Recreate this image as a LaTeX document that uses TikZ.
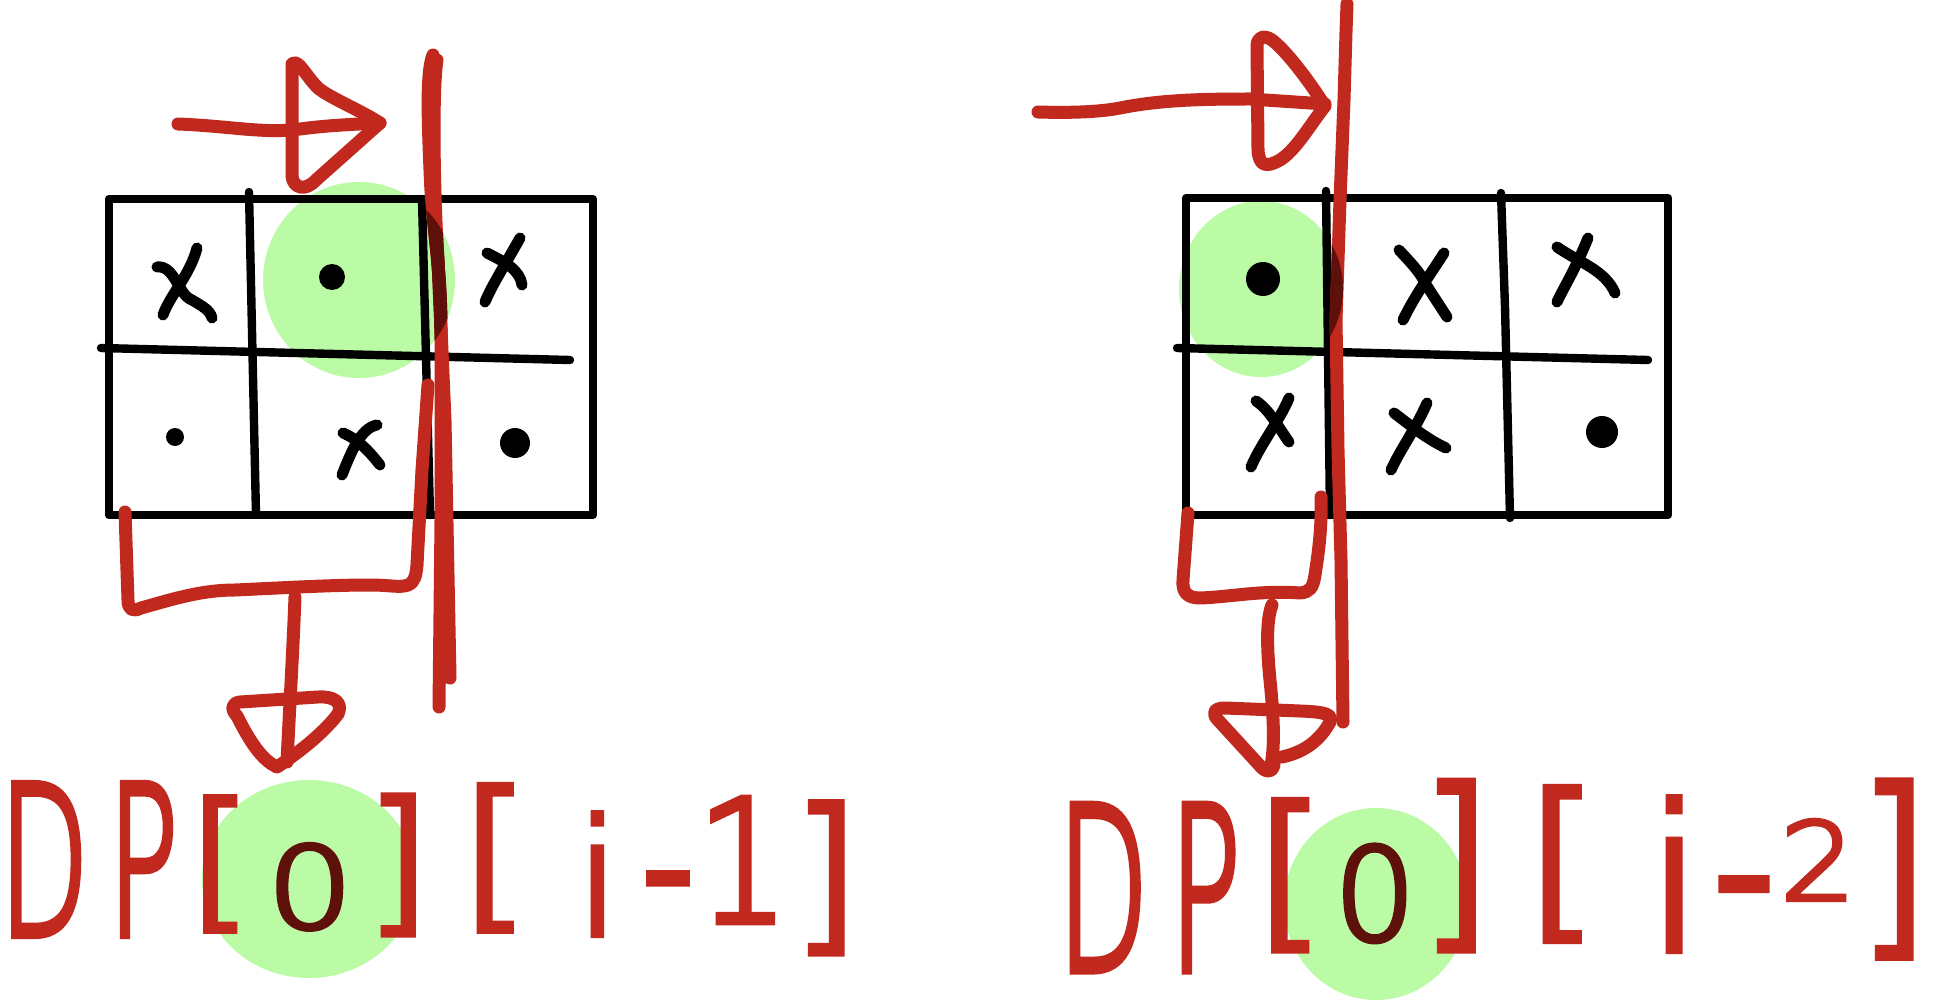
\documentclass[tikz,border=0pt]{standalone}
\usepackage{fontspec}
\setmainfont{Liberation Sans}
\IfFontExistsTF{DejaVu Sans ExtraLight}{\newfontfamily\hwfont{DejaVu Sans ExtraLight}[FakeBold=4]}{\newfontfamily\hwfont{Liberation Sans}}
\usepackage{graphicx}
\definecolor{redc}{RGB}{193,41,30}
\definecolor{maroonc}{RGB}{94,16,10}
\definecolor{greenc}{RGB}{187,251,166}
\newcommand\hwch[5]{\makebox[#1][c]{\raisebox{#4}{\fontsize{#2}{#2}\selectfont\scalebox{#3}[1]{#5}}}}
\tikzset{
  gridl/.style={line width=4.2pt, line cap=round, line join=round},
  xm/.style={line width=5.5pt, line cap=round, line join=round},
  rs/.style={line width=6.5pt, line cap=round, line join=round},
  lbl/.style={inner sep=0pt, outer sep=0pt, text=redc, anchor=base west, font=\hwfont},
  blob/.style={fill=greenc}
}
\newcommand\redLeftStrokes{%
 \draw[rs] (178,124) .. controls (230,126) and (265,134) .. (300,129) .. controls (330,125) and (360,124) .. (380,123);
 \draw[rs] (380,123) .. controls (360,110) and (330,98) .. (318,88) .. controls (305,75) and (298,58) .. (292,64) -- (292,176) .. controls (293,188) and (305,192) .. (316,180) -- (380,123);
 \draw[rs] (433,55) .. controls (426,72) and (428,120) .. (430,170) .. controls (432,230) and (441,262) .. (441,330) -- (441,520) -- (439,707);
 \draw[rs] (437,60) .. controls (432,90) and (434,200) .. (438,260) -- (445,420) -- (450,678);
 \draw[rs] (125,512) -- (128,600) .. controls (128,610) and (133,612) .. (141,608) .. controls (170,600) and (200,590) .. (235,590) .. controls (280,588) and (330,585) .. (370,585) .. controls (390,585) and (400,588) .. (408,585) .. controls (415,582) and (416,575) .. (417,565) -- (422,470) -- (428,385);
 \draw[rs] (295,597) .. controls (293,650) and (290,700) .. (287,762);
 \draw[rs] (237,716) .. controls (250,742) and (262,760) .. (277,767) .. controls (295,755) and (322,735) .. (338,714) .. controls (343,703) and (335,696) .. (318,697) -- (240,702) .. controls (231,703) and (231,710) .. (237,716);
}
\newcommand\redRightStrokes{%
 \draw[rs] (1038,112) .. controls (1070,113) and (1100,112) .. (1120,108) .. controls (1160,100) and (1200,99) .. (1250,99) -- (1325,104);
 \draw[rs] (1325,106) .. controls (1305,75) and (1285,50) .. (1272,40) .. controls (1263,34) and (1257,38) .. (1257,46) -- (1258,150) .. controls (1259,166) and (1266,168) .. (1280,160) .. controls (1296,150) and (1310,125) .. (1325,106);
 \draw[rs] (1347,4) -- (1346,32) -- (1344,100) -- (1340,200) -- (1336,320) -- (1338,450) -- (1341,560) -- (1343,722);
 \draw[rs] (1188,513) -- (1183,580) .. controls (1182,593) and (1188,598) .. (1200,598) .. controls (1230,597) and (1262,590) .. (1300,593) .. controls (1310,592) and (1313,588) .. (1315,575) .. controls (1318,555) and (1322,530) .. (1321,497);
 \draw[rs] (1272,605) .. controls (1266,620) and (1267,650) .. (1270,680) .. controls (1274,720) and (1275,750) .. (1270,770);
 \draw[rs] (1282,757) .. controls (1305,752) and (1320,740) .. (1330,722) .. controls (1333,714) and (1325,712) .. (1300,711) -- (1225,708) .. controls (1213,708) and (1212,714) .. (1218,720) -- (1262,768) .. controls (1268,773) and (1272,772) .. (1274,765);
}
\begin{document}
\begin{tikzpicture}[x=0.5pt,y=-0.5pt]
\useasboundingbox (0,0) rectangle (1943,1000);
\fill[white] (0,0) rectangle (1943,1000);
% green highlights
\fill[blob] (359,280) ellipse [x radius=96, y radius=98];
\fill[blob] (1261,289) ellipse [x radius=82, y radius=88];
\fill[blob] (309,879) ellipse [x radius=107, y radius=99];
\fill[blob] (1376,904) ellipse [x radius=92, y radius=96];
% left grid
\draw[gridl] (109,199) rectangle (593,515);
\draw[gridl] (249,192) -- (256,515);
\draw[gridl] (422,199) -- (430,515);
\draw[gridl] (101,348) -- (570,360);
% left marks
\draw[xm] (157,267) .. controls (175,265) and (178,295) .. (192,300) .. controls (202,306) and (210,310) .. (212,318);
\draw[xm] (197,248) .. controls (190,275) and (170,295) .. (163,315);
\draw[xm] (487,253) .. controls (505,262) and (520,270) .. (522,285);
\draw[xm] (520,238) .. controls (505,265) and (492,285) .. (485,302);
\draw[xm] (343,433) .. controls (360,440) and (372,455) .. (380,465);
\draw[xm] (377,425) .. controls (360,428) and (350,455) .. (342,475);
\fill (332,277) circle [radius=13];
\fill (175,437) circle [radius=9];
\fill (515,443) circle [radius=15];
% right grid
\draw[gridl] (1186,198) rectangle (1668,515);
\draw[gridl] (1326,191) -- (1330,515);
\draw[gridl] (1501,193) -- (1505,307) -- (1510,518);
\draw[gridl] (1177,348) -- (1648,360);
% right marks
\fill (1263,279) circle [radius=17];
\draw[xm] (1399,250) .. controls (1410,262) and (1420,272) .. (1425,283) -- (1447,317);
\draw[xm] (1444,253) .. controls (1430,275) and (1415,295) .. (1403,320);
\draw[xm] (1557,247) .. controls (1580,263) and (1605,270) .. (1615,293);
\draw[xm] (1588,238) .. controls (1575,270) and (1565,285) .. (1557,302);
\draw[xm] (1256,401) .. controls (1270,410) and (1280,430) .. (1289,442);
\draw[xm] (1289,398) .. controls (1280,420) and (1260,445) .. (1251,467);
\draw[xm] (1394,413) .. controls (1410,425) and (1425,438) .. (1446,448);
\draw[xm] (1427,403) .. controls (1415,430) and (1400,450) .. (1391,470);
\fill (1602,432) circle [radius=16];
% red strokes
\begin{scope}[color=redc]
\redLeftStrokes
\redRightStrokes
\end{scope}
\begin{scope}
\clip (359,280) ellipse [x radius=96, y radius=98];
\begin{scope}[color=maroonc]\redLeftStrokes\end{scope}
\end{scope}
\begin{scope}
\clip (1261,289) ellipse [x radius=82, y radius=88];
\begin{scope}[color=maroonc]\redRightStrokes\end{scope}
\end{scope}
% labels
\node[lbl] (labA) at (8,935) {\hwch{36pt}{103.5}{0.56}{0pt}{D}%
\hwch{63pt}{103.5}{0.56}{0pt}{P}%
\hwch{14pt}{75}{1.1}{12pt}{[}%
\hwch{76pt}{56.5}{1.2}{3.5pt}{\color{maroonc}0}%
\hwch{12pt}{78}{1.1}{10.5pt}{]}%
\hwch{85pt}{81.5}{1.1}{13pt}{[}%
\hwch{18pt}{80}{1}{0pt}{i}%
\hwch{52pt}{103.5}{0.7}{0pt}{-}%
\hwch{23pt}{85}{0.85}{6.5pt}{1}%
\hwch{60pt}{84.5}{1.05}{2pt}{]}};
\node[lbl] (labB) at (1067,970) {\hwch{36pt}{113}{0.52}{0pt}{D}%
\hwch{66pt}{113}{0.52}{0pt}{P}%
\hwch{19pt}{84}{1.1}{21pt}{[}%
\hwch{66pt}{64}{1.0}{15pt}{\color{maroonc}0}%
\hwch{15pt}{94.5}{1.0}{22.5pt}{]}%
\hwch{91pt}{86}{1.1}{26pt}{[}%
\hwch{22pt}{100}{1}{10pt}{i}%
\hwch{47pt}{113}{0.75}{12pt}{-}%
\hwch{27pt}{54}{1.1}{35pt}{2}%
\hwch{49pt}{98.5}{0.95}{19.5pt}{]}};
\end{tikzpicture}
\end{document}
